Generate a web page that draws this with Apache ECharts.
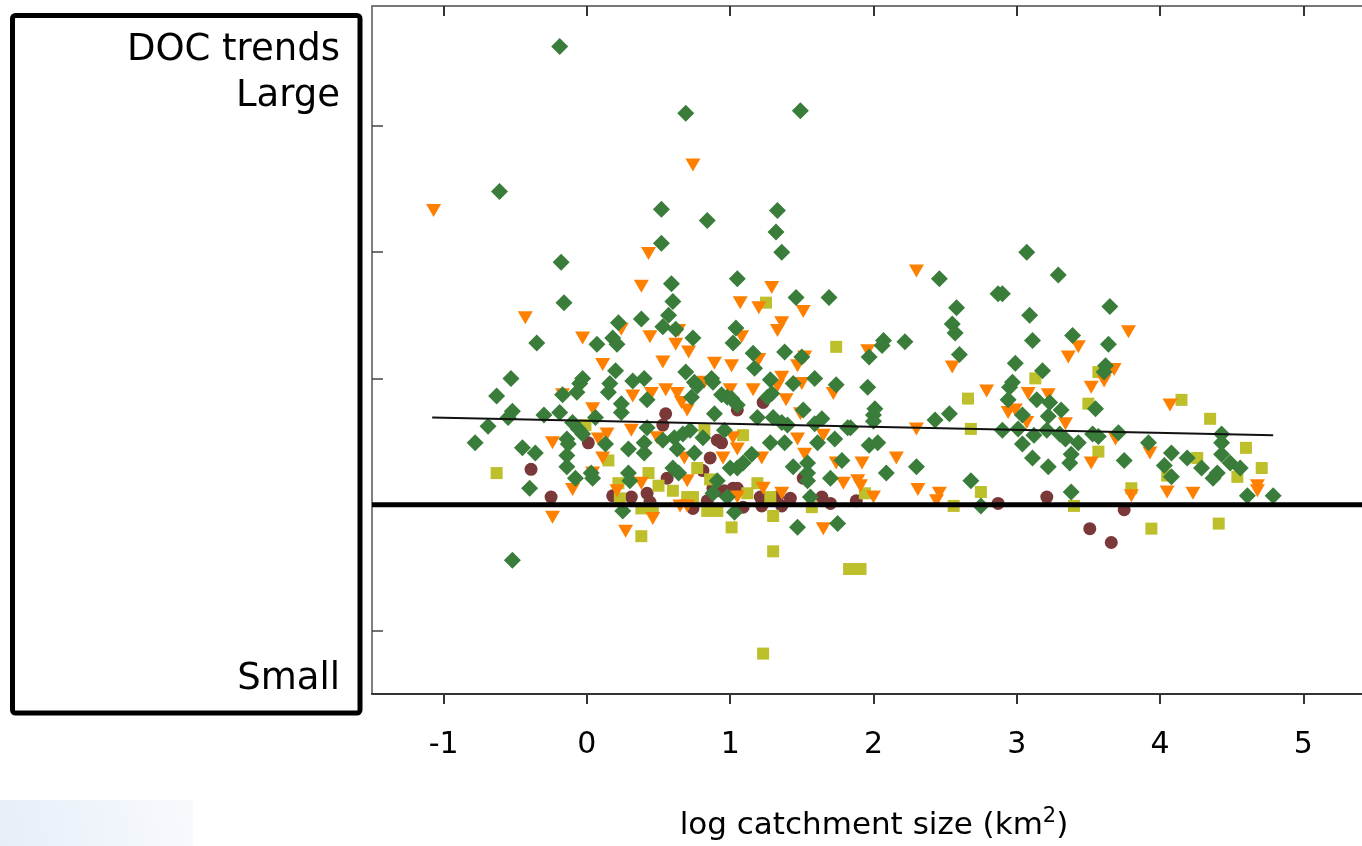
<!DOCTYPE html>
<html>
<head>
<meta charset="utf-8">
<title>DOC trends vs log catchment size</title>
<script src="https://cdn.jsdelivr.net/npm/echarts@6/dist/echarts.min.js"></script>
<style>
  html, body { margin: 0; padding: 0; background: #fff; }
  #chart { width: 1362px; height: 846px; }
</style>
</head>
<body>
<div id="chart"></div>
<script>
// x = log catchment size (km2), y = DOC trend (tick units, 0 = no trend)
const xTicks = [-1, 0, 1, 2, 3, 4, 5];
const yTicks = [-1, 0, 1, 2, 3];

const diamondPts = [
  [-0.19, 3.63], [0.69, 3.10], [1.49, 3.12], [-0.61, 2.48], [0.52, 2.34], [0.84, 2.25],
  [1.33, 2.33], [1.32, 2.16], [1.36, 2.00], [0.52, 2.07], [-0.18, 1.92], [1.05, 1.79],
  [0.59, 1.75], [-0.16, 1.60], [1.46, 1.64], [1.69, 1.64], [2.46, 1.79], [3.07, 2.00],
  [3.29, 1.82], [2.87, 1.67], [2.90, 1.67], [2.58, 1.56], [3.65, 1.57], [3.09, 1.50],
  [2.22, 1.29], [2.06, 1.26], [2.07, 1.30], [1.97, 1.17], [2.55, 1.43], [2.57, 1.36],
  [2.60, 1.19], [3.39, 1.34], [3.11, 1.30], [3.64, 1.27], [2.99, 1.12], [3.18, 1.06],
  [3.62, 1.10], [3.61, 1.05], [1.96, 0.93], [2.01, 0.76], [2.00, 0.71], [2.00, 0.66],
  [2.43, 0.67], [2.53, 0.72], [2.95, 0.93], [2.97, 0.97], [2.94, 0.83], [3.14, 0.83],
  [3.23, 0.81], [3.31, 0.75], [3.55, 0.76], [3.04, 0.71], [3.22, 0.70], [1.84, 0.61],
  [2.90, 0.59], [3.01, 0.60], [3.21, 0.59], [3.12, 0.55], [3.30, 0.56], [3.34, 0.52],
  [3.53, 0.56], [3.57, 0.54], [3.71, 0.57], [3.43, 0.49], [3.04, 0.48], [1.97, 0.47],
  [2.03, 0.49], [3.92, 0.49], [4.43, 0.56], [4.43, 0.49], [3.11, 0.37], [3.22, 0.30],
  [3.38, 0.40], [3.37, 0.33], [3.75, 0.35], [4.08, 0.41], [4.19, 0.37], [4.43, 0.40],
  [4.49, 0.33], [4.03, 0.31], [4.08, 0.22], [4.29, 0.29], [4.40, 0.25], [4.37, 0.21],
  [4.56, 0.29], [2.09, 0.25], [2.30, 0.30], [2.68, 0.19], [3.38, 0.10], [4.61, 0.07],
  [4.79, 0.07], [2.75, -0.01], [0.60, 1.61], [0.57, 1.50], [0.22, 1.44], [0.38, 1.47],
  [0.53, 1.41], [0.62, 1.39], [0.74, 1.32], [0.18, 1.32], [0.21, 1.27], [0.07, 1.27],
  [-0.35, 1.28], [0.20, 1.06], [-0.53, 1.00], [-0.03, 1.00], [-0.05, 0.96], [0.16, 0.96],
  [0.15, 0.89], [0.32, 0.98], [0.40, 1.00], [0.69, 1.05], [0.75, 0.97], [0.77, 0.94],
  [0.87, 1.00], [-0.63, 0.86], [-0.17, 0.87], [-0.07, 0.89], [0.73, 0.85], [1.04, 1.40],
  [1.02, 1.28], [1.16, 1.20], [1.38, 1.21], [1.50, 1.17], [1.17, 1.08], [0.88, 0.97],
  [1.28, 0.99], [1.44, 0.96], [1.59, 1.00], [1.74, 0.95], [0.94, 0.87], [0.98, 0.85],
  [1.29, 0.88], [1.26, 0.85], [0.24, 0.80], [0.24, 0.73], [0.42, 0.83], [-0.52, 0.74],
  [-0.55, 0.69], [-0.30, 0.71], [-0.19, 0.73], [0.06, 0.69], [-0.10, 0.65], [-0.06, 0.60],
  [-0.03, 0.56], [0.89, 0.72], [-0.69, 0.62], [-0.78, 0.49], [-0.14, 0.52], [-0.13, 0.48],
  [0.13, 0.48], [-0.45, 0.45], [-0.36, 0.41], [-0.14, 0.39], [-0.14, 0.30], [0.29, 0.44],
  [0.42, 0.61], [0.40, 0.49], [0.40, 0.41], [0.53, 0.51], [0.61, 0.53], [0.67, 0.56],
  [0.72, 0.59], [0.81, 0.53], [0.63, 0.44], [0.75, 0.41], [0.60, 0.29], [0.64, 0.25],
  [-0.08, 0.21], [0.04, 0.21], [0.03, 0.25], [0.29, 0.25], [0.30, 0.19], [-0.40, 0.13],
  [0.25, -0.05], [0.88, 0.09], [1.01, 0.84], [1.05, 0.79], [1.19, 0.69], [1.30, 0.69],
  [1.36, 0.65], [1.40, 0.63], [1.51, 0.75], [1.59, 0.64], [1.64, 0.68], [1.82, 0.61],
  [0.96, 0.59], [1.28, 0.49], [1.38, 0.49], [1.61, 0.49], [1.73, 0.52], [1.15, 0.40],
  [1.09, 0.33], [1.05, 0.29], [1.00, 0.29], [1.78, 0.35], [1.44, 0.30], [1.54, 0.33],
  [1.54, 0.25], [1.54, 0.19], [1.70, 0.21], [0.91, 0.19], [0.98, 0.06], [1.03, -0.06],
  [1.56, 0.06], [1.47, -0.18], [1.75, -0.15], [-0.52, -0.44]
];

const trianglePts = [
  [-1.07, 2.33], [0.74, 2.69], [2.30, 1.85], [0.43, 1.99], [0.38, 1.73], [1.29, 1.72],
  [-0.43, 1.48], [-0.03, 1.32], [0.24, 1.39], [0.44, 1.33], [0.64, 1.38], [0.62, 1.27],
  [0.71, 1.21], [0.11, 1.11], [0.53, 1.13], [0.89, 1.12], [0.82, 0.97], [0.32, 0.86],
  [0.45, 0.88], [0.55, 0.91], [0.63, 0.88], [-0.17, 0.87], [1.07, 1.60], [1.20, 1.56],
  [1.51, 1.53], [1.36, 1.44], [1.33, 1.38], [1.08, 1.33], [1.20, 1.15], [1.01, 1.10],
  [1.47, 1.10], [1.52, 1.17], [1.36, 1.01], [1.50, 0.96], [1.33, 0.94], [1.00, 0.91],
  [1.16, 0.91], [1.72, 0.88], [1.96, 1.22], [2.55, 1.09], [2.79, 0.90], [3.08, 0.88],
  [3.22, 0.87], [2.94, 0.73], [2.99, 0.75], [3.07, 0.65], [3.34, 0.64], [3.36, 1.17],
  [3.43, 1.25], [3.78, 1.37], [3.52, 0.93], [3.61, 0.98], [3.68, 1.07], [4.07, 0.79],
  [2.30, 0.60], [3.69, 0.52], [3.93, 0.41], [3.52, 0.33], [1.92, 0.33], [2.16, 0.37],
  [1.89, 0.19], [1.91, 0.15], [2.31, 0.12], [2.46, 0.09], [2.44, 0.03], [2.00, 0.06],
  [3.80, 0.07], [4.05, 0.10], [4.23, 0.09], [4.68, 0.15], [4.68, 0.11], [0.04, 0.76],
  [0.66, 0.81], [0.70, 0.75], [-0.24, 0.49], [0.14, 0.56], [0.08, 0.52], [0.31, 0.59],
  [0.49, 0.53], [0.11, 0.37], [0.68, 0.37], [0.04, 0.25], [-0.10, 0.12], [0.38, 0.17],
  [0.70, 0.19], [-0.24, -0.10], [0.46, -0.11], [0.27, -0.21], [0.21, 0.11], [0.65, -0.01],
  [0.70, -0.01], [1.39, 0.83], [1.49, 0.72], [1.02, 0.53], [1.05, 0.44], [1.22, 0.37],
  [0.95, 0.37], [1.47, 0.52], [1.65, 0.55], [1.52, 0.40], [1.74, 0.33], [1.79, 0.17],
  [1.23, 0.13], [1.36, 0.09], [1.05, 0.06], [1.65, -0.19]
];

const squarePts = [
  [1.25, 1.60], [1.74, 1.25], [2.66, 0.84], [3.13, 1.00], [3.57, 1.05], [3.50, 0.80],
  [4.15, 0.83], [4.35, 0.68], [2.68, 0.60], [3.57, 0.42], [4.26, 0.37], [4.60, 0.45],
  [4.71, 0.29], [4.54, 0.22], [4.05, 0.23], [1.94, 0.09], [2.75, 0.10], [3.80, 0.13],
  [2.56, -0.01], [3.40, -0.01], [3.94, -0.19], [4.41, -0.15], [1.91, -0.51], [1.83, -0.51],
  [1.30, -0.37], [1.23, -1.18], [-0.63, 0.25], [-0.01, 0.63], [0.15, 0.35], [0.43, 0.25],
  [0.82, 0.59], [0.77, 0.29], [0.22, 0.17], [0.50, 0.15], [0.60, 0.11], [0.86, 0.20],
  [0.74, 0.06], [0.70, 0.06], [0.23, 0.05], [0.38, -0.03], [0.46, -0.03], [0.84, -0.05],
  [0.38, -0.25], [1.09, 0.55], [1.19, 0.17], [1.12, 0.09], [1.28, 0.06], [1.57, -0.02],
  [0.91, -0.05], [1.30, -0.09], [1.01, -0.18]
];

const circlePts = [
  [0.55, 0.72], [0.53, 0.63], [0.01, 0.49], [-0.39, 0.28], [0.56, 0.21], [0.86, 0.37],
  [0.91, 0.51], [0.81, 0.27], [-0.25, 0.06], [0.18, 0.07], [0.31, 0.06], [0.42, 0.09],
  [0.44, 0.02], [0.74, -0.03], [0.88, 0.13], [1.23, 0.81], [1.05, 0.75], [0.94, 0.49],
  [1.51, 0.21], [0.91, 0.11], [0.96, 0.11], [1.02, 0.13], [1.05, 0.13], [0.84, 0.03],
  [1.09, -0.02], [1.21, 0.06], [1.22, -0.01], [1.33, 0.06], [1.36, -0.01], [1.42, 0.05],
  [1.64, 0.06], [1.70, 0.01], [1.88, 0.03], [2.87, 0.01], [3.21, 0.06], [3.75, -0.04],
  [3.51, -0.19], [3.66, -0.30]
];

const trendLine = [[-1.08, 0.69], [4.79, 0.55]];
const zeroLine = [[-1.5, 0], [5.41, 0]];

const chart = echarts.init(document.getElementById('chart'));

const option = {
  animation: false,
  backgroundColor: '#fff',
  grid: { left: 372, right: 0, top: 6, bottom: 152, outerBoundsMode: 'none' },
  xAxis: [
    {
      type: 'value',
      position: 'bottom',
      min: -1.5,
      max: 5.41,
      name: 'log catchment size (km{sup|2})',
      nameLocation: 'middle',
      nameGap: 112,
      nameTextStyle: {
        color: '#000',
        fontSize: 31,
        fontFamily: 'DejaVu Sans',
        lineHeight: 40,
        padding: [0, 0, 0, 14],
        rich: {
          sup: { fontSize: 21, fontFamily: 'DejaVu Sans', color: '#000', verticalAlign: 'top', lineHeight: 40 }
        }
      },
      axisLine: { show: true, onZero: false, lineStyle: { color: '#333', width: 2 } },
      axisTick: { show: true, inside: false, length: 10, customValues: xTicks, lineStyle: { color: '#333', width: 2 } },
      axisLabel: { customValues: xTicks, margin: 36, color: '#000', fontSize: 30, fontFamily: 'DejaVu Sans' },
      splitLine: { show: false }
    },
    {
      type: 'value',
      position: 'top',
      min: -1.5,
      max: 5.41,
      axisLine: { show: true, onZero: false, lineStyle: { color: '#777', width: 2 } },
      axisTick: { show: true, inside: true, length: 10, customValues: xTicks, lineStyle: { color: '#333', width: 2 } },
      axisLabel: { show: false },
      splitLine: { show: false }
    }
  ],
  yAxis: {
    type: 'value',
    min: -1.5,
    max: 3.95,
    axisLine: { show: true, onZero: false, lineStyle: { color: '#555', width: 1.5 } },
    axisTick: { show: true, inside: true, length: 11, customValues: yTicks, lineStyle: { color: '#444', width: 1.5 } },
    axisLabel: { show: false },
    splitLine: { show: false }
  },
  graphic: [
    {
      type: 'rect',
      shape: { x: 0, y: 800, width: 193, height: 46 },
      style: {
        fill: new echarts.graphic.LinearGradient(0, 1, 1, 0, [
          { offset: 0, color: '#e6eef8' },
          { offset: 1, color: '#f8fafd' }
        ])
      },
      silent: true
    },
    {
      type: 'rect',
      shape: { x: 12.5, y: 15.5, width: 347.5, height: 697.5, r: 3 },
      style: { fill: '#fff', stroke: '#000', lineWidth: 5 },
      silent: true
    },
    {
      type: 'text',
      x: 340, y: 50,
      style: { text: 'DOC trends', fill: '#000', font: '37px "DejaVu Sans"', textAlign: 'right', textVerticalAlign: 'middle' },
      silent: true
    },
    {
      type: 'text',
      x: 340, y: 96,
      style: { text: 'Large', fill: '#000', font: '37px "DejaVu Sans"', textAlign: 'right', textVerticalAlign: 'middle' },
      silent: true
    },
    {
      type: 'text',
      x: 340, y: 679,
      style: { text: 'Small', fill: '#000', font: '37px "DejaVu Sans"', textAlign: 'right', textVerticalAlign: 'middle' },
      silent: true
    }
  ],
  series: [
    {
      name: 'circles', type: 'scatter', data: circlePts, symbol: 'circle', symbolSize: 13,
      itemStyle: { color: '#7b3838', opacity: 1 }, z: 2
    },
    {
      name: 'squares', type: 'scatter', data: squarePts, symbol: 'rect', symbolSize: 12,
      itemStyle: { color: '#bdbf2b', opacity: 1 }, z: 3
    },
    {
      name: 'triangles', type: 'scatter', data: trianglePts, symbol: 'triangle', symbolRotate: 180,
      symbolSize: [15, 13], itemStyle: { color: '#ff8000', opacity: 1 }, z: 4
    },
    {
      name: 'diamonds', type: 'scatter', data: diamondPts, symbol: 'diamond', symbolSize: 17,
      itemStyle: { color: '#3a7d3b', opacity: 1 }, z: 5
    },
    {
      name: 'trend', type: 'line', data: trendLine, symbol: 'none', silent: true,
      lineStyle: { color: '#111', width: 2 }, z: 6
    },
    {
      name: 'zero', type: 'line', data: zeroLine, symbol: 'none', silent: true,
      lineStyle: { color: '#000', width: 5 }, z: 7
    }
  ]
};

chart.setOption(option);
</script>
</body>
</html>
